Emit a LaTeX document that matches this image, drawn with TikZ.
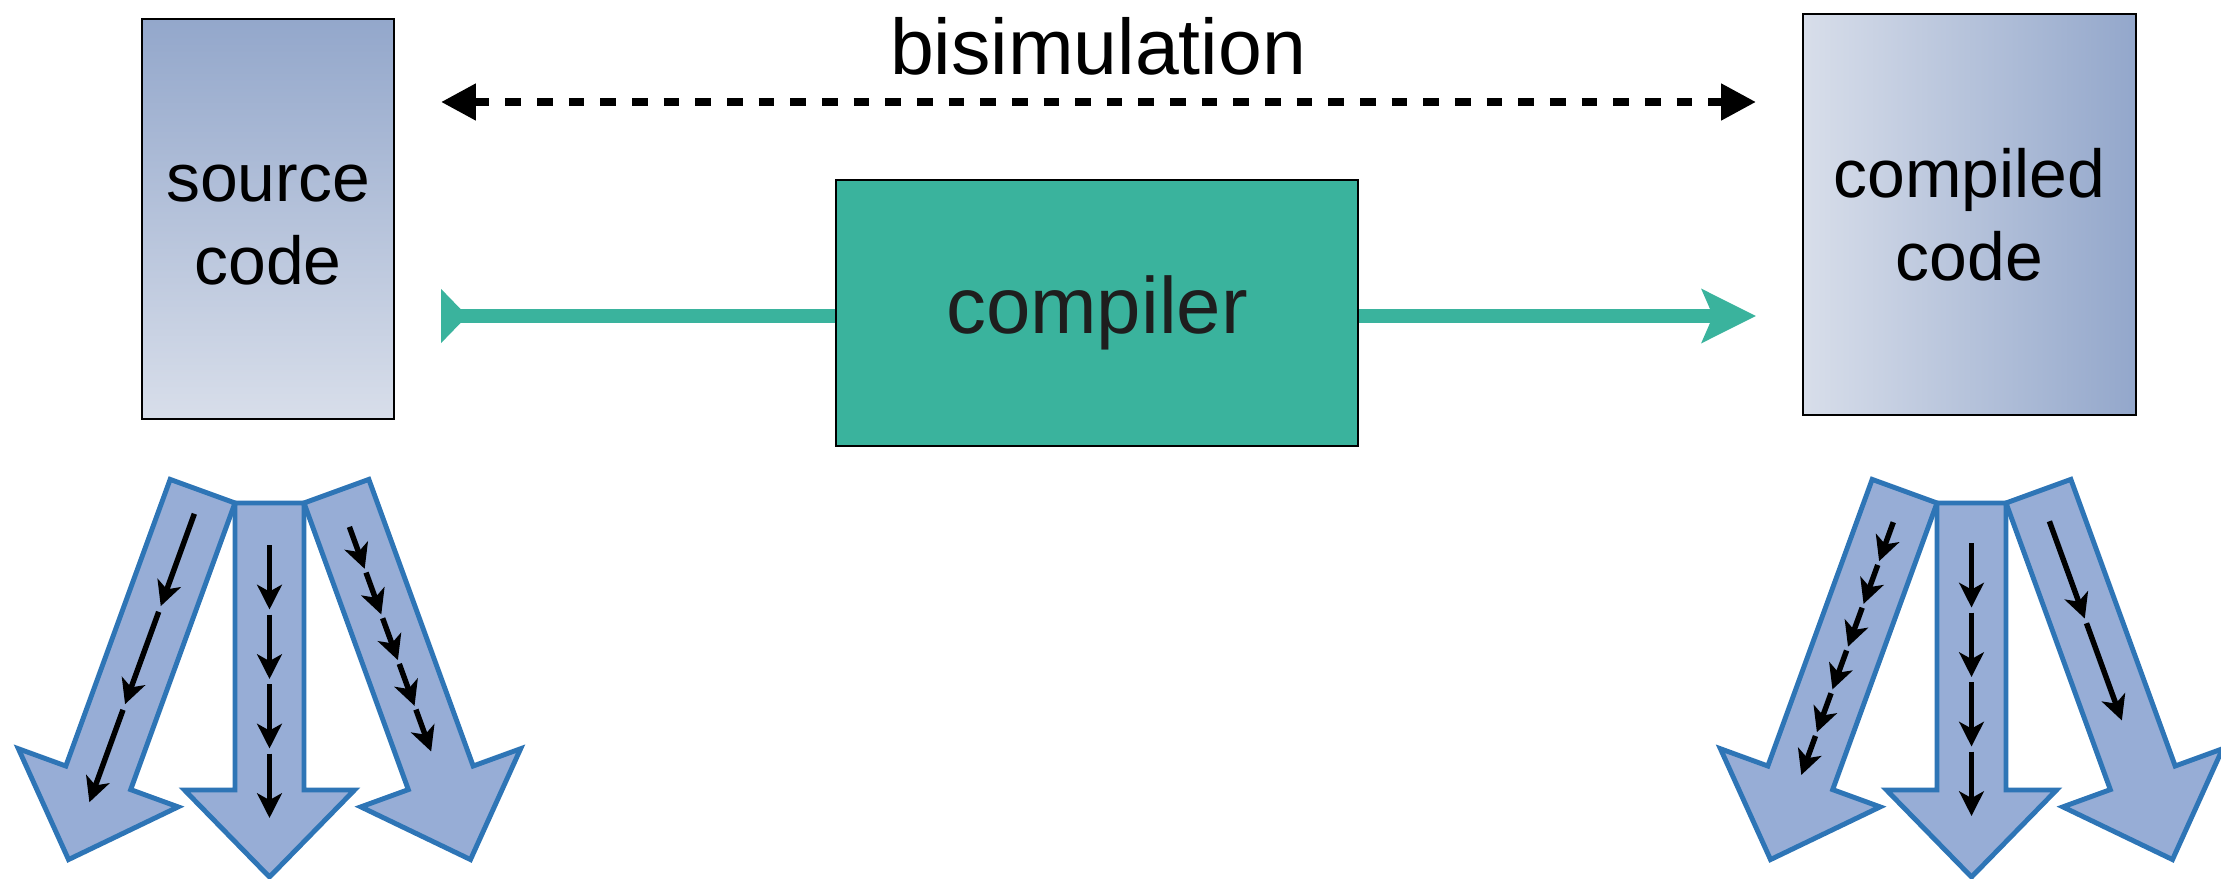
\documentclass[tikz,border=0pt]{standalone}
\usepackage{fontspec}
\setmainfont{Liberation Sans}
\usetikzlibrary{arrows.meta}
\definecolor{tealc}{HTML}{3AB39D}
\definecolor{fatfill}{HTML}{97ADD6}
\definecolor{fatline}{HTML}{2E75B6}
\definecolor{gdark}{HTML}{93A7CB}
\definecolor{glight}{HTML}{D8DEEA}
\definecolor{txtdark}{HTML}{1E1E1E}
\newcommand\fatarrowshape[4]{\draw[fat] (-#1,0) -- (#1,0) -- (#1,#3) -- (#2,#3) -- (0,{#3+#4}) -- (-#2,#3) -- (-#1,#3) -- cycle;}
\newcommand\innerchain[4]{%
  \pgfmathsetmacro\chainp{(#2-#1+#4)/#3}%
  \foreach \ci in {1,...,#3}{\draw[inarrow] (0,{#1+(\ci-1)*\chainp}) -- (0,{#1+\ci*\chainp-#4});}}
\begin{document}
\begin{tikzpicture}[x=0.01cm,y=-0.01cm,
  fat/.style={draw=fatline, fill=fatfill, line width=1.4pt, line join=miter},
  inarrow/.style={line width=1.55pt, -{Stealth[length=7pt,width=7pt,inset=1.9pt]}},
  codebox/.style={draw=black, line width=0.7pt, inner sep=0pt, align=center,
    font=\fontsize{19.3}{23.5}\selectfont},
  compbox/.style={draw=black, line width=0.6pt, fill=tealc, inner sep=0pt,
    text=txtdark, font=\fontsize{22.7}{27}\selectfont},
  tealarrow/.style={draw=tealc, line width=3.9pt},
  bisim/.style={line width=2.27pt, dash pattern=on 4.45pt off 4.55pt,
    {Triangle[length=9.9pt,width=9.9pt]}-{Triangle[length=9.9pt,width=9.9pt]}},
  lbl/.style={font=\fontsize{22.4}{27}\selectfont, inner sep=0pt, anchor=base}]
\useasboundingbox (0,0) rectangle (2221,879);

% boxes
\node[codebox, top color=gdark, bottom color=glight, minimum width=2.52cm, minimum height=4.00cm] (src) at (268,219) {\vphantom{d}source\\code};
\node[codebox, left color=glight, right color=gdark, minimum width=3.33cm, minimum height=4.01cm] (cmp) at (1969.5,214.5) {compiled\\code};
\node[compbox, minimum width=5.22cm, minimum height=2.66cm] (comp) at (1097,313) {compiler};

% bisimulation
\coordinate (bl) at (441,102);
\coordinate (br) at (1756,102);
\draw[bisim] (bl) -- (br);
\node[lbl] (bisimlbl) at (1098,75) {bisimulation};

% compiler arrow
\coordinate (cl) at (441,316);
\coordinate (cr) at (1756,316);
\draw[tealarrow, {Triangle[reversed,length=7.5pt,width=15pt]}-] (cl) -- (comp.west |- cl);
\draw[tealarrow, -{Stealth[length=15.3pt,width=15pt,inset=3.1pt]}] (comp.east |- cr) -- (cr);

% left group of fat arrows
\begin{scope}[shift={(269.5,503)}]
  \fatarrowshape{34.5}{85}{287}{87}
  \innerchain{42}{315}{4}{5}
\end{scope}
\begin{scope}[shift={(235,503)},rotate=-20,shift={(-34.5,0)}]
  \fatarrowshape{34.5}{85}{305}{87}
  \innerchain{24}{331}{3}{6}
\end{scope}
\begin{scope}[shift={(304,503)},rotate=20,shift={(34.5,0)}]
  \fatarrowshape{34.5}{85}{305}{87}
  \innerchain{38}{277}{5}{4}
\end{scope}

% right group of fat arrows
\begin{scope}[shift={(1971.5,503)}]
  \fatarrowshape{34.5}{85}{287}{87}
  \innerchain{40}{313}{4}{5}
\end{scope}
\begin{scope}[shift={(1937,503)},rotate=-20,shift={(-34.5,0)}]
  \fatarrowshape{34.5}{85}{305}{87}
  \innerchain{33}{302}{6}{4}
\end{scope}
\begin{scope}[shift={(2006,503)},rotate=20,shift={(34.5,0)}]
  \fatarrowshape{34.5}{85}{305}{87}
  \innerchain{32}{244}{2}{5}
\end{scope}
\end{tikzpicture}
\end{document}
